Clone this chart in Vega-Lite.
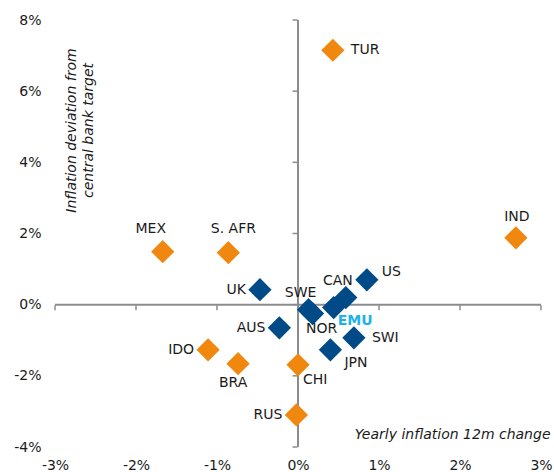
{
  "$schema": "https://vega.github.io/schema/vega-lite/v6.json",
  "width": 486,
  "height": 427,
  "autosize": {"type": "none"},
  "padding": {"left": 55, "top": 20, "right": 13, "bottom": 25},
  "config": {
    "view": {"stroke": null},
    "font": "DejaVu Sans",
    "axis": {"domain": false, "ticks": false, "grid": false, "labelFont": "DejaVu Sans", "labelFontSize": 14, "labelColor": "#1a1a1a", "titleFont": "DejaVu Sans", "titleFontSize": 14, "titleFontWeight": "normal", "titleFontStyle": "italic", "titleColor": "#1a1a1a"},
    "text": {"font": "DejaVu Sans", "fontSize": 14, "fill": "#1a1a1a", "baseline": "middle"}
  },
  "datasets": {
    "pts": [
      {"c": "TUR", "x": 0.43, "y": 7.15, "g": "EM"},
      {"c": "MEX", "x": -1.67, "y": 1.49, "g": "EM"},
      {"c": "S. AFR", "x": -0.86, "y": 1.46, "g": "EM"},
      {"c": "IND", "x": 2.69, "y": 1.88, "g": "EM"},
      {"c": "IDO", "x": -1.11, "y": -1.27, "g": "EM"},
      {"c": "BRA", "x": -0.74, "y": -1.66, "g": "EM"},
      {"c": "CHI", "x": 0.0, "y": -1.69, "g": "EM"},
      {"c": "RUS", "x": -0.02, "y": -3.1, "g": "EM"},
      {"c": "AUS", "x": -0.23, "y": -0.65, "g": "DM"},
      {"c": "UK", "x": -0.47, "y": 0.42, "g": "DM"},
      {"c": "SWE", "x": 0.13, "y": -0.14, "g": "DM"},
      {"c": "NOR", "x": 0.18, "y": -0.25, "g": "DM"},
      {"c": "EMU", "x": 0.44, "y": -0.08, "g": "DM"},
      {"c": "CAN", "x": 0.59, "y": 0.2, "g": "DM"},
      {"c": "US", "x": 0.85, "y": 0.7, "g": "DM"},
      {"c": "SWI", "x": 0.69, "y": -0.93, "g": "DM"},
      {"c": "JPN", "x": 0.4, "y": -1.27, "g": "DM"}
    ],
    "zero": [{"v": 0}],
    "xt": [{"v": -3}, {"v": -2}, {"v": -1}, {"v": 0}, {"v": 1}, {"v": 2}, {"v": 3}],
    "yt": [{"v": -4}, {"v": -2}, {"v": 0}, {"v": 2}, {"v": 4}, {"v": 6}, {"v": 8}]
  },
  "layer": [
    {
      "data": {"name": "pts"},
      "mark": {"type": "point", "opacity": 0},
      "encoding": {
        "x": {"field": "x", "type": "quantitative", "scale": {"domain": [-3, 3], "nice": false, "zero": false},
          "axis": {"orient": "bottom", "values": [-3, -2, -1, 0, 1, 2, 3], "labelExpr": "datum.value + '%'", "labelPadding": 11, "labelFlush": false, "labelBound": false,
            "title": "Yearly inflation 12m change", "titleX": 495, "titleY": -13, "titleAlign": "right", "titleBaseline": "middle", "titleAnchor": null}},
        "y": {"field": "y", "type": "quantitative", "scale": {"domain": [-4, 8], "nice": false, "zero": false},
          "axis": {"orient": "left", "values": [-4, -2, 0, 2, 4, 6, 8], "labelExpr": "datum.value + '%'", "labelPadding": 14, "labelFlush": false, "labelBound": false,
            "title": ["Inflation deviation from", "central bank target"], "titleAngle": -90, "titleX": 16, "titleY": 110, "titleAlign": "center", "titleBaseline": "middle", "titleLineHeight": 17, "titleAnchor": null}}
      }
    },
    {
      "data": {"name": "zero"},
      "mark": {"type": "rule", "color": "#8c8c8c", "strokeWidth": 2},
      "encoding": {"x": {"field": "v", "type": "quantitative"}}
    },
    {
      "data": {"name": "zero"},
      "mark": {"type": "rule", "color": "#8c8c8c", "strokeWidth": 2},
      "encoding": {"y": {"field": "v", "type": "quantitative"}}
    },
    {
      "data": {"name": "xt"},
      "mark": {"type": "tick", "orient": "vertical", "color": "#8c8c8c", "size": 5, "thickness": 1.5, "yOffset": 3, "opacity": 1},
      "encoding": {"x": {"field": "v", "type": "quantitative"}, "y": {"datum": 0, "type": "quantitative"}}
    },
    {
      "data": {"name": "yt"},
      "mark": {"type": "tick", "orient": "horizontal", "color": "#8c8c8c", "size": 5, "thickness": 1.5, "xOffset": -3, "opacity": 1},
      "encoding": {"y": {"field": "v", "type": "quantitative"}, "x": {"datum": 0, "type": "quantitative"}}
    },
    {
      "data": {"name": "pts"},
      "mark": {"type": "point", "shape": "diamond", "filled": true, "size": 540, "opacity": 1, "strokeWidth": 0},
      "encoding": {
        "x": {"field": "x", "type": "quantitative"},
        "y": {"field": "y", "type": "quantitative"},
        "color": {"field": "g", "type": "nominal", "scale": {"domain": ["EM", "DM"], "range": ["#F0880F", "#004B87"]}, "legend": null}
      }
    },
    {
      "data": {"name": "pts"},
      "transform": [{"filter": "indexof(['UK','AUS','IDO','RUS'], datum.c) >= 0"}],
      "mark": {"type": "text", "align": "right", "dx": -14, "dy": 0},
      "encoding": {"x": {"field": "x", "type": "quantitative"}, "y": {"field": "y", "type": "quantitative"}, "text": {"field": "c"}}
    },
    {
      "data": {"name": "pts"},
      "transform": [{"filter": "indexof(['TUR','SWI'], datum.c) >= 0"}],
      "mark": {"type": "text", "align": "left", "dx": 18, "dy": 0},
      "encoding": {"x": {"field": "x", "type": "quantitative"}, "y": {"field": "y", "type": "quantitative"}, "text": {"field": "c"}}
    },
    {
      "data": {"name": "pts"},
      "transform": [{"filter": "datum.c == 'US'"}],
      "mark": {"type": "text", "align": "left", "dx": 15, "dy": -8},
      "encoding": {"x": {"field": "x", "type": "quantitative"}, "y": {"field": "y", "type": "quantitative"}, "text": {"field": "c"}}
    },
    {
      "data": {"name": "pts"},
      "transform": [{"filter": "datum.c == 'IND'"}],
      "mark": {"type": "text", "align": "center", "dx": 1, "dy": -21},
      "encoding": {"x": {"field": "x", "type": "quantitative"}, "y": {"field": "y", "type": "quantitative"}, "text": {"field": "c"}}
    },
    {
      "data": {"name": "pts"},
      "transform": [{"filter": "indexof(['SWE','CAN'], datum.c) >= 0"}],
      "mark": {"type": "text", "align": "center", "dx": -8, "dy": -17},
      "encoding": {"x": {"field": "x", "type": "quantitative"}, "y": {"field": "y", "type": "quantitative"}, "text": {"field": "c"}}
    },
    {
      "data": {"name": "pts"},
      "transform": [{"filter": "datum.c == 'MEX'"}],
      "mark": {"type": "text", "align": "center", "dx": -12, "dy": -23},
      "encoding": {"x": {"field": "x", "type": "quantitative"}, "y": {"field": "y", "type": "quantitative"}, "text": {"field": "c"}}
    },
    {
      "data": {"name": "pts"},
      "transform": [{"filter": "datum.c == 'S. AFR'"}],
      "mark": {"type": "text", "align": "center", "dx": 5, "dy": -24},
      "encoding": {"x": {"field": "x", "type": "quantitative"}, "y": {"field": "y", "type": "quantitative"}, "text": {"field": "c"}}
    },
    {
      "data": {"name": "pts"},
      "transform": [{"filter": "indexof(['NOR'], datum.c) >= 0"}],
      "mark": {"type": "text", "align": "center", "dx": 9, "dy": 15},
      "encoding": {"x": {"field": "x", "type": "quantitative"}, "y": {"field": "y", "type": "quantitative"}, "text": {"field": "c"}}
    },
    {
      "data": {"name": "pts"},
      "transform": [{"filter": "datum.c == 'BRA'"}],
      "mark": {"type": "text", "align": "center", "dx": -5, "dy": 19},
      "encoding": {"x": {"field": "x", "type": "quantitative"}, "y": {"field": "y", "type": "quantitative"}, "text": {"field": "c"}}
    },
    {
      "data": {"name": "pts"},
      "transform": [{"filter": "datum.c == 'CHI'"}],
      "mark": {"type": "text", "align": "left", "dx": 5, "dy": 15},
      "encoding": {"x": {"field": "x", "type": "quantitative"}, "y": {"field": "y", "type": "quantitative"}, "text": {"field": "c"}}
    },
    {
      "data": {"name": "pts"},
      "transform": [{"filter": "datum.c == 'JPN'"}],
      "mark": {"type": "text", "align": "left", "dx": 14, "dy": 13},
      "encoding": {"x": {"field": "x", "type": "quantitative"}, "y": {"field": "y", "type": "quantitative"}, "text": {"field": "c"}}
    },
    {
      "data": {"name": "pts"},
      "transform": [{"filter": "datum.c == 'EMU'"}],
      "mark": {"type": "text", "align": "left", "dx": 4, "dy": 13, "fill": "#1DB3E8", "fontWeight": "bold"},
      "encoding": {"x": {"field": "x", "type": "quantitative"}, "y": {"field": "y", "type": "quantitative"}, "text": {"field": "c"}}
    }
  ]
}
